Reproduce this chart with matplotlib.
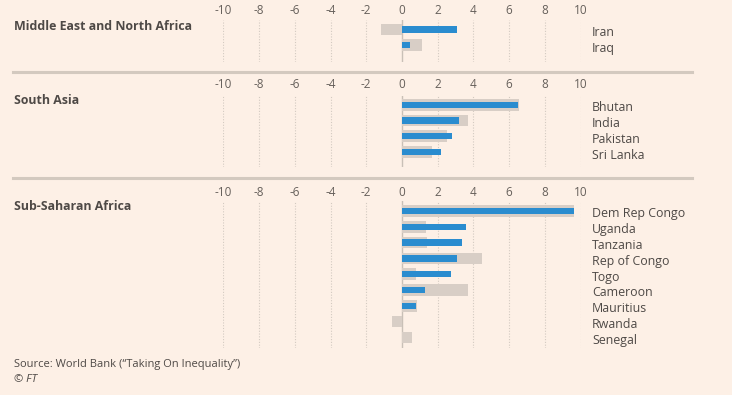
import matplotlib
matplotlib.use("Agg")
import matplotlib.pyplot as plt

# data
regions = ["Middle East and North Africa", "South Asia", "Sub-Saharan Africa"]

mena_countries = ["Iran", "Iraq"]
mena_blue = [3.05, 0.45]
mena_grey = [-1.2, 1.1]

sa_countries = ["Bhutan", "India", "Pakistan", "Sri Lanka"]
sa_blue = [6.5, 3.2, 2.8, 2.2]
sa_grey = [6.55, 3.7, 2.5, 1.7]

ssa_countries = ["Dem Rep Congo", "Uganda", "Tanzania", "Rep of Congo", "Togo",
                 "Cameroon", "Mauritius", "Rwanda", "Senegal"]
ssa_blue = [9.6, 3.6, 3.35, 3.05, 2.75, 1.3, 0.8, 0.0, 0.0]
ssa_grey = [9.65, 1.35, 1.4, 4.5, 0.8, 3.7, 0.85, -0.55, 0.55]

xticks = [-10, -8, -6, -4, -2, 0, 2, 4, 6, 8, 10]

BG = "#fdf0e6"
BLUE = "#2a8ccf"
GREY = "#d8cec6"
TXT = "#4e4946"
TICK = "#66605b"

W, H = 732, 395
fig = plt.figure(figsize=(W / 100, H / 100), dpi=100)
fig.patch.set_facecolor(BG)

x0_px, x1_px = 223.3, 580.7   # -10 and 10
row_sp = 15.8

# (countries, blue, grey, grid top px, grid bottom px, first row px, tick label px, title px)
panels = [
    (mena_countries, mena_blue, mena_grey, 20, 62, 29.5, 10, 26),
    (sa_countries, sa_blue, sa_grey, 96, 167, 104.7, 85, 100),
    (ssa_countries, ssa_blue, ssa_grey, 201, 348, 211, 192.5, 207),
]

for region, (names, blue, grey, top, bot, first, tick_y, title_y) in zip(regions, panels):
    ax = fig.add_axes([x0_px / W, 1 - bot / H, (x1_px - x0_px) / W, (bot - top) / H])
    ax.set_facecolor("none")
    n = len(names)
    y = list(range(n))
    ax.set_xlim(-10, 10)
    ax.set_ylim(n - 1 + (bot - (first + (n - 1) * row_sp)) / row_sp, -(first - top) / row_sp)
    for t in xticks:
        if t == 0:
            ax.axvline(0, color="#c9c0b7", lw=1.0, zorder=1)
        else:
            ax.axvline(t, color="#d3cac1", lw=0.8, ls=(0, (1, 1.5)), zorder=0)
    ax.barh(y, grey, height=0.74, color=GREY, zorder=2)
    ax.barh(y, blue, height=0.40, color=BLUE, zorder=3)
    for s in ax.spines.values():
        s.set_visible(False)
    ax.set_xticks([])
    ax.set_yticks([])

    # tick labels above the panel
    for t in xticks:
        fig.text((x0_px + (t + 10) / 20 * (x1_px - x0_px)) / W, 1 - tick_y / H,
                 str(t), ha="center", va="center",
                 fontsize=8.5, color=TICK, family="Open Sans")

    # country labels
    for i, name in enumerate(names):
        fig.text(592 / W, 1 - (first + i * row_sp + 3) / H, name, ha="left", va="center",
                 fontsize=8.9, color=TXT, family="Open Sans")

    fig.text(14 / W, 1 - title_y / H, region, ha="left", va="center",
             fontsize=8.9, fontweight="bold", color=TXT, family="Open Sans")

# separators between regions
for sep_y in [72, 178]:
    fig.add_artist(plt.Line2D([13 / W, 692 / W], [1 - sep_y / H, 1 - sep_y / H],
                              color="#d3c9bf", lw=2.2, transform=fig.transFigure))

fig.text(14 / W, 1 - 365 / H, "Source: World Bank (\u201cTaking On Inequality\u201d)",
         ha="left", va="center", fontsize=8.0, color=TXT, family="Open Sans")
fig.text(14 / W, 1 - 379 / H, "\u00a9 FT", ha="left", va="center",
         fontsize=8.0, color=TXT, family="Open Sans", style="italic")

fig.savefig("out.png", dpi=100, facecolor=BG)
